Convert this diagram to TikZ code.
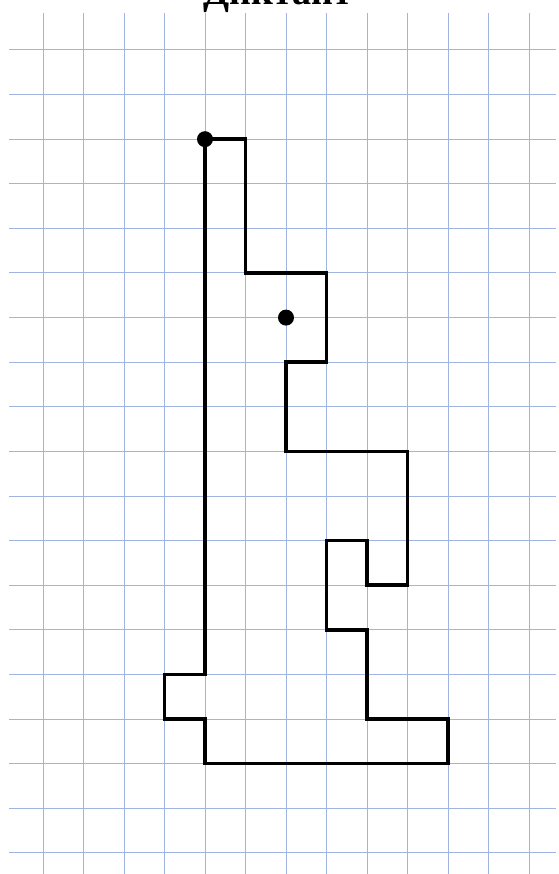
\documentclass[tikz,border=0pt]{standalone}
\usepackage{fontspec}
\setmainfont{Liberation Serif}
\definecolor{gridblue}{RGB}{160,180,225}
\tikzset{
  grd/.style={draw=gridblue,line width=1pt},
  fig/.style={draw=black,line width=3.6pt,line join=miter},
  dot/.style={circle,fill=black,inner sep=0pt,minimum size=16pt},
  hdr/.style={font=\fontsize{38}{40}\selectfont\bfseries},
}
\begin{document}
\begin{tikzpicture}[x=1pt,y=-1pt]
  \useasboundingbox (0,0) rectangle (558,874);
  % title, cut by the page edge
  \node[hdr,anchor=base] (title) at (278,5) {Диктант};
  % grid
  \foreach \i in {-4,...,8}
    \draw[grd] ({205+40.5*\i},13) -- ({205+40.5*\i},874);
  \foreach \k in {-2,...,16}
    \draw[grd] (9,{139.2+44.6*\k}) -- (556,{139.2+44.6*\k});
  % figure
  \begin{scope}[shift={(205,139.2)},x=40.5pt,y=-44.6pt]
    \draw[fig] (0,0) -- (1,0) -- (1,3) -- (3,3) -- (3,5) -- (2,5) -- (2,7)
      -- (5,7) -- (5,10) -- (4,10) -- (4,9) -- (3,9) -- (3,11) -- (4,11)
      -- (4,13) -- (6,13) -- (6,14) -- (0,14) -- (0,13) -- (-1,13)
      -- (-1,12) -- (0,12) -- cycle;
    \node[dot] (start) at (0,0) {};
    \node[dot] (eye) at (2,4) {};
  \end{scope}
\end{tikzpicture}
\end{document}
